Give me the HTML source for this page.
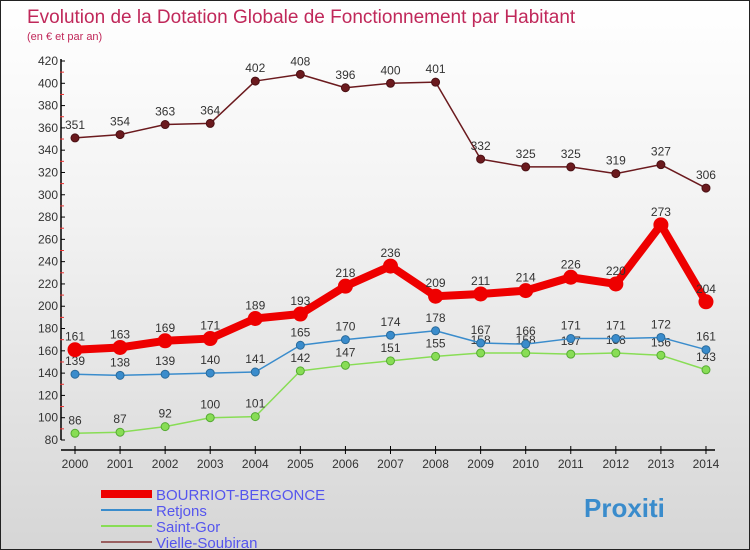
<!DOCTYPE html>
<html><head><meta charset="utf-8"><style>
html,body{margin:0;padding:0}
body{width:750px;height:550px;overflow:hidden;font-family:"Liberation Sans",sans-serif}
#wrap{position:absolute;left:0;top:0;width:748px;height:548px;border:1px solid #222;background:linear-gradient(#ffffff,#f2f2f2 40%,#d6d6d6)}
</style></head><body>
<div id="wrap">
<svg id="c" width="748" height="548" style="position:absolute;left:0;top:0">
<text x="26" y="22" font-size="19" fill="#c0285a">Evolution de la Dotation Globale de Fonctionnement par Habitant</text>
<text x="26" y="39" font-size="11" fill="#c0285a">(en € et par an)</text>
</svg>
</div>
<script>
const years=['2000','2001','2002','2003','2004','2005','2006','2007','2008','2009','2010','2011','2012','2013','2014'];
const bourriot=[161,163,169,171,189,193,218,236,209,211,214,226,220,273,204];
const retjons=[139,138,139,140,141,165,170,174,178,167,166,171,171,172,161];
const saintGor=[86,87,92,100,101,142,147,151,155,158,158,157,158,156,143];
const vielle=[351,354,363,364,402,408,396,400,401,332,325,325,319,327,306];
const yTicks=[80,100,120,140,160,180,200,220,240,260,280,300,320,340,360,380,400,420];
const NS='http://www.w3.org/2000/svg';
const svg=document.getElementById('c');
const X=i=>74+i*45.07;
const Y=v=>439-(v-80)*(379/340);
function el(t,a){const e=document.createElementNS(NS,t);for(const k in a)e.setAttribute(k,a[k]);svg.appendChild(e);return e;}
let ax=el('line',{x1:60,y1:58,x2:60,y2:439,stroke:'#000','stroke-width':1.5});


let bx=el('line',{x1:60,y1:449,x2:714,y2:449,stroke:'#000','stroke-width':1.5});


yTicks.forEach((v,k)=>{
 el('line',{x1:60,y1:Y(v),x2:64,y2:Y(v),stroke:'#000'});
 if(k<yTicks.length-1) el('line',{x1:59,y1:Y(v+10),x2:63,y2:Y(v+10),stroke:'#e33'});
 const t=el('text',{x:57,y:Y(v)+4,'font-size':12,fill:'#333','text-anchor':'end'});
 t.textContent=v;
 
 
});
years.forEach((y,i)=>{
 el('line',{x1:X(i),y1:445,x2:X(i),y2:453,stroke:'#000'});
 const t=el('text',{x:X(i),y:467,'font-size':12,fill:'#333','text-anchor':'middle'});
 t.textContent=y;
 
 
});
function series(data,color,w,r,name,dark){
 const p=el('polyline',{points:data.map((v,i)=>X(i)+','+Y(v)).join(' '),fill:'none',stroke:color,'stroke-width':w,'stroke-linejoin':'round'});
 
 
 data.forEach((v,i)=>{
  const c=el('circle',{cx:X(i),cy:Y(v),r:r,fill:color,stroke:dark,'stroke-width':1});
  
  
  const t=el('text',{x:X(i),y:Y(v)-9,'font-size':12,fill:'#333','text-anchor':'middle'});
  t.textContent=v;
  
  
 });
}
series(vielle,'#6b1a1e',1.5,4,'vielle-soubiran','#4a1014');
series(saintGor,'#88dd55',1.5,4,'saint-gor','#55aa33');
series(retjons,'#3a8ccc',1.5,4,'retjons','#2a6a9a');
series(bourriot,'#ee0000',8,7,'bourriot-bergonce','#ee0000');
const legend=[['BOURRIOT-BERGONCE','#ee0000',8],['Retjons','#3a8ccc',2],['Saint-Gor','#88dd55',2],['Vielle-Soubiran','#9a6060',2]];
legend.forEach((l,i)=>{
 const y=493+i*16;
 const ln=el('line',{x1:100,y1:y,x2:151,y2:y,stroke:l[1],'stroke-width':l[2]});
 
 
 const t=el('text',{x:155,y:y+6,'font-size':15,fill:'#5555ee'});
 t.textContent=l[0];
 
 
});
const lg=el('text',{x:583,y:516,'font-size':26,'font-weight':'bold',fill:'#3a8ccc'});
lg.textContent='Proxiti';


</script>
</body></html>
